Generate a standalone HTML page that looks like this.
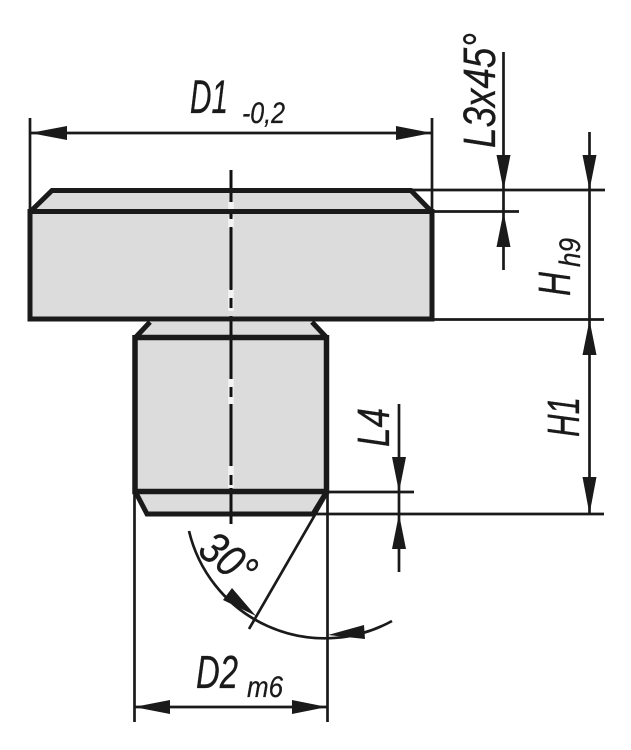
<!DOCTYPE html>
<html><head><meta charset="utf-8"><style>
html,body{margin:0;padding:0;background:#fff;width:631px;height:750px;overflow:hidden}
svg{display:block}
text{font-family:"Liberation Sans",sans-serif;font-style:italic;fill:#1a1a1a;stroke:#1a1a1a;stroke-width:.3}
</style></head><body>
<svg width="631" height="750" viewBox="0 0 631 750" xmlns="http://www.w3.org/2000/svg">
<g stroke-linejoin="miter" stroke-linecap="butt">
<!-- fills -->
<polygon points="30,212 52,190 411,190 432,212 432,320 30,320" fill="#dcdcdc"/>
<polygon points="134,339 150,322 312,322 328,339 328,491 313,514 147,514 134,491" fill="#dcdcdc"/>
<!-- centre line -->
<g stroke="#fff" stroke-width="5.5" opacity=".7">
<line x1="231" y1="202" x2="231" y2="209"/>
<line x1="231" y1="217" x2="231" y2="228"/>
<line x1="231" y1="289" x2="231" y2="311"/>
<line x1="231" y1="379" x2="231" y2="404"/>
<line x1="231" y1="466" x2="231" y2="488"/>
</g>
<g stroke="#111" stroke-width="3">
<line x1="231" y1="170" x2="231" y2="202"/>
<line x1="231" y1="209" x2="231" y2="219"/>
<line x1="231" y1="227" x2="231" y2="290"/>
<line x1="231" y1="298" x2="231" y2="308"/>
<line x1="231" y1="316" x2="231" y2="379"/>
<line x1="231" y1="387" x2="231" y2="397"/>
<line x1="231" y1="404" x2="231" y2="466"/>
<line x1="231" y1="475" x2="231" y2="485"/>
<line x1="231" y1="488" x2="231" y2="524"/>
</g>
<!-- outlines -->
<g fill="none" stroke="#1a1a1a" stroke-width="5">
<path d="M30,211.5 H432 M30,209 V319 H432 V209"/>
</g>
<g fill="none" stroke="#1a1a1a" stroke-width="5.5">
<path d="M135,337.5 H326.5 M135,335 V491.5 H326.5 V335"/>
</g>
<g fill="none" stroke="#1a1a1a" stroke-width="5">
<path d="M30,212 L52,190.5 H411 L432,212"/>
<path d="M135,338 L150,322 M312,322 L327,338"/>
<path d="M135,491 L147,514 H313 L327,491"/>
</g>
<!-- thin lines -->
<g fill="none" stroke="#1a1a1a" stroke-width="2.7">
<line x1="30" y1="118" x2="30" y2="212"/>
<line x1="432" y1="118" x2="432" y2="212"/>
<line x1="30" y1="133" x2="432" y2="133"/>
<line x1="411" y1="190" x2="605" y2="190"/>
<line x1="432" y1="211.5" x2="519" y2="211.5"/>
<line x1="432" y1="319.5" x2="604" y2="319.5"/>
<line x1="327" y1="492" x2="414" y2="492"/>
<line x1="313" y1="514" x2="604" y2="514"/>
<line x1="503.5" y1="52" x2="503.5" y2="270"/>
<line x1="589.5" y1="132" x2="589.5" y2="514"/>
<line x1="399" y1="404" x2="399" y2="572"/>
<line x1="134.5" y1="491" x2="134.5" y2="722"/>
<line x1="327.5" y1="491" x2="327.5" y2="722"/>
<line x1="134" y1="707" x2="327" y2="707"/>
<line x1="327" y1="494" x2="249" y2="629"/>
<path d="M189,531 A139.5,139.5 0 0 0 392,621"/>
</g>
<!-- arrowheads -->
<g fill="#1a1a1a">
<polygon points="30,133 67,126 67,140"/>
<polygon points="432,133 396,126 396,140"/>
<polygon points="503.5,190 496.5,155 510.5,155"/>
<polygon points="503.5,212 496.5,247 510.5,247"/>
<polygon points="589.5,190 582.5,155 596.5,155"/>
<polygon points="589.5,320 582.5,355 596.5,355"/>
<polygon points="589.5,514 582.5,477 596.5,477"/>
<polygon points="399,492 392,457 406,457"/>
<polygon points="399,514 392,549 406,549"/>
<polygon points="134,707 170,700 170,714"/>
<polygon points="327,707 292,700 292,714"/>
<polygon points="256,616 232,588 223,600"/>
<polygon points="328,635 364,625 365,639"/>
</g>
</g>
<!-- labels -->
<text x="190" y="113" font-size="47" textLength="38" lengthAdjust="spacingAndGlyphs">D1</text>
<text x="242" y="123" font-size="30" textLength="43" lengthAdjust="spacingAndGlyphs">-0,2</text>
<text transform="translate(495 148) rotate(-90)" font-size="45" textLength="115" lengthAdjust="spacingAndGlyphs">L3x45°</text>
<text transform="translate(570 296) rotate(-90)" font-size="45" textLength="24" lengthAdjust="spacingAndGlyphs">H</text>
<text transform="translate(580 267) rotate(-90)" font-size="30" textLength="29" lengthAdjust="spacingAndGlyphs">h9</text>
<text transform="translate(579 437) rotate(-90)" font-size="45" textLength="40" lengthAdjust="spacingAndGlyphs">H1</text>
<text transform="translate(389 447) rotate(-90)" font-size="45" textLength="39" lengthAdjust="spacingAndGlyphs">L4</text>
<text x="196" y="688" font-size="46" textLength="42" lengthAdjust="spacingAndGlyphs">D2</text>
<text x="247" y="697" font-size="30" textLength="36" lengthAdjust="spacingAndGlyphs">m6</text>
<text transform="translate(196 553) rotate(38)" font-size="45" textLength="58" lengthAdjust="spacingAndGlyphs">30°</text>
</svg>
</body></html>
